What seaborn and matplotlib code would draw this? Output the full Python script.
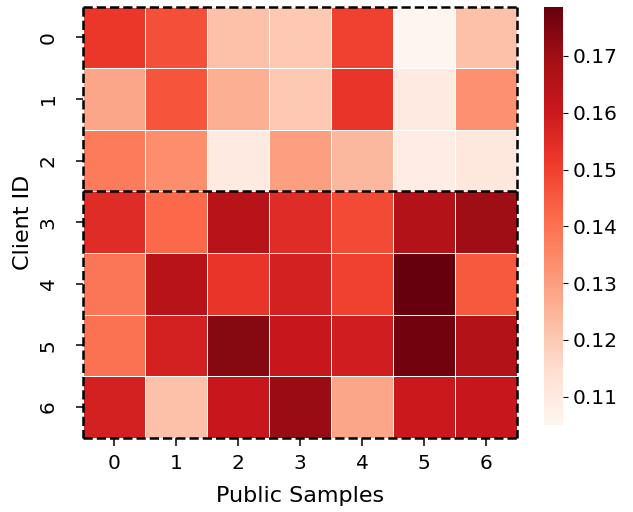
import numpy as np
import pandas as pd
import matplotlib
matplotlib.use("Agg")
import matplotlib.pyplot as plt
import seaborn as sns

clients = [0, 1, 2, 3, 4, 5, 6]
samples = [0, 1, 2, 3, 4, 5, 6]
row0 = [0.152, 0.147, 0.122, 0.120, 0.150, 0.105, 0.122]
row1 = [0.128, 0.146, 0.126, 0.120, 0.153, 0.110, 0.133]
row2 = [0.138, 0.134, 0.110, 0.130, 0.124, 0.109, 0.111]
row3 = [0.155, 0.142, 0.165, 0.155, 0.148, 0.166, 0.170]
row4 = [0.139, 0.165, 0.153, 0.158, 0.150, 0.1786, 0.145]
row5 = [0.140, 0.158, 0.174, 0.161, 0.159, 0.177, 0.166]
row6 = [0.158, 0.122, 0.161, 0.171, 0.128, 0.160, 0.161]
group_bounds = [0, 3, 7]

data = pd.DataFrame([row0, row1, row2, row3, row4, row5, row6],
                    index=clients, columns=samples)

tick_fs = 14.5
label_fs = 16
fig = plt.figure(figsize=(6.33, 5.12), dpi=100)
ax = fig.add_axes([0.131, 0.145, 0.686, 0.842])
cax = fig.add_axes([0.859, 0.17, 0.031, 0.816])
sns.heatmap(data, cmap="Reds", linewidths=0.6, linecolor="white",
            ax=ax, cbar_ax=cax)
ax.set_xlabel("Public Samples", fontsize=label_fs, labelpad=9)
ax.set_ylabel("Client ID", fontsize=label_fs, labelpad=4)
ax.tick_params(axis="x", labelsize=tick_fs, length=6, width=1.1, pad=6)
ax.tick_params(axis="y", labelsize=tick_fs, length=5, width=1.1, pad=13)
cax.tick_params(labelsize=tick_fs)
for lab in ax.get_yticklabels():
    lab.set_rotation(90)
    lab.set_va("center")

dash = dict(color="black", linestyle="--", linewidth=1.8, clip_on=False)
ncol = len(samples)
for b in group_bounds:
    ax.plot([0, ncol], [b, b], **dash)
for a, b in zip(group_bounds[:-1], group_bounds[1:]):
    ax.plot([0, 0], [a, b], **dash)
    ax.plot([ncol, ncol], [a, b], **dash)

fig.savefig("out.png", dpi=100)
